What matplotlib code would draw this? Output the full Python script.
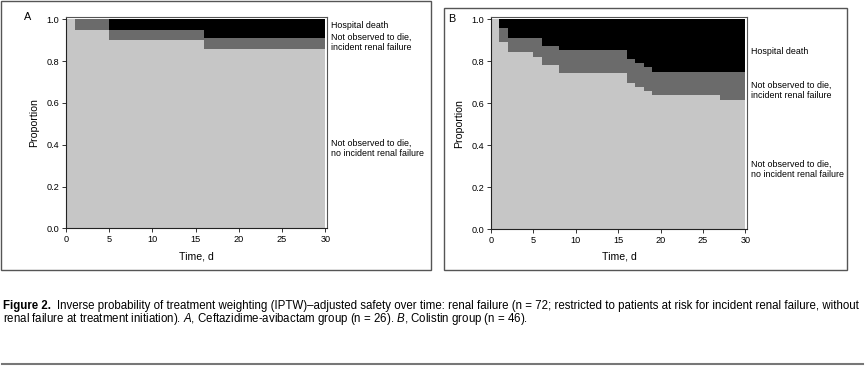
import matplotlib.pyplot as plt
from matplotlib.patches import Rectangle
from matplotlib.lines import Line2D

# step curves: upper edge of "alive, no renal failure" and of "not observed to die"
TIME_A = [0, 1, 5, 16, 30]
ALIVE_NO_RF_A = [1.0, 0.95, 0.90, 0.86, 0.86]
NOT_DEAD_A = [1.0, 1.0, 0.95, 0.91, 0.91]

TIME_B = [0, 1, 2, 5, 6, 8, 16, 17, 18, 19, 27, 30]
ALIVE_NO_RF_B = [1.0, 0.89, 0.845, 0.821, 0.783, 0.745, 0.698, 0.679, 0.66, 0.641, 0.617, 0.617]
NOT_DEAD_B = [1.0, 0.957, 0.913, 0.913, 0.875, 0.856, 0.809, 0.79, 0.771, 0.749, 0.749, 0.749]

X_TICKS = [0, 5, 10, 15, 20, 25, 30]
Y_TICKS = [0.0, 0.2, 0.4, 0.6, 0.8, 1.0]

LABELS = [
    "Hospital death",
    "Not observed to die,\nincident renal failure",
    "Not observed to die,\nno incident renal failure",
]
LABEL_Y_A = [0.969, 0.889, 0.384]
LABEL_Y_B = [0.849, 0.663, 0.284]

CAPTION_HEAD = "Figure 2."
CAPTION_1 = ("Inverse probability of treatment weighting (IPTW)\u2013adjusted safety over time: "
             "renal failure (n = 72; restricted to patients at risk for incident renal failure, without")
CAPTION_2 = ("renal failure at treatment initiation). $\\it{A}$, Ceftazidime-avibactam group (n = 26). "
             "$\\it{B}$, Colistin group (n = 46).")

LIGHT = "#c6c6c6"
MID = "#6b6b6b"
DARK = "#000000"

plt.rcParams["font.family"] = ["Liberation Sans", "DejaVu Sans"]
plt.rcParams["mathtext.fontset"] = "custom"
plt.rcParams["mathtext.it"] = "Liberation Sans:italic"

W, H = 865, 369
fig = plt.figure(figsize=(W / 100, H / 100), dpi=100)


def px_axes(x0, x1, y0, y1):
    # pixel box (top-left origin) -> figure axes
    return fig.add_axes([x0 / W, 1 - y1 / H, (x1 - x0) / W, (y1 - y0) / H])


def draw_panel(ax, t, alive, notdead, label_y):
    ax.fill_between(t, 0, alive, step="post", color=LIGHT, lw=0)
    ax.fill_between(t, alive, notdead, step="post", color=MID, lw=0)
    ax.fill_between(t, notdead, 1.0, step="post", color=DARK, lw=0)
    ax.set_xlim(0, 30.2)
    ax.set_ylim(0, 1.01)
    ax.set_xticks(X_TICKS)
    ax.set_yticks(Y_TICKS)
    ax.set_yticklabels([f"{v:.1f}" for v in Y_TICKS])
    ax.tick_params(labelsize=6.6, length=3, width=0.7, pad=2, color="#333333")
    for s in ax.spines.values():
        s.set_linewidth(0.8)
        s.set_color("#555555")
    ax.spines["left"].set_color("#222222")
    ax.spines["bottom"].set_color("#222222")
    ax.set_xlabel("Time, d", fontsize=7.6, labelpad=5)
    ax.set_ylabel("Proportion", fontsize=7.6, labelpad=5)
    for txt, y in zip(LABELS, label_y):
        ax.text(1.015, y, txt, transform=ax.get_yaxis_transform(),
                fontsize=6.4, va="center", ha="left", linespacing=1.15)


ax_a = px_axes(66, 327, 17.3, 228.3)
draw_panel(ax_a, TIME_A, ALIVE_NO_RF_A, NOT_DEAD_A, LABEL_Y_A)
ax_b = px_axes(491, 747, 17.3, 229)
draw_panel(ax_b, TIME_B, ALIVE_NO_RF_B, NOT_DEAD_B, LABEL_Y_B)

# panel frames
for x0, y0, x1, y1 in [(1, 1, 431, 270), (444, 8, 847, 270)]:
    fig.patches.append(Rectangle((x0 / W, 1 - y1 / H), (x1 - x0) / W, (y1 - y0) / H,
                                 transform=fig.transFigure, fill=False,
                                 ec="#555555", lw=1.0))

fig.text(28 / W, 1 - 17.5 / H, "A", fontsize=7.8, ha="center", va="center")
fig.text(452 / W, 1 - 19 / H, "B", fontsize=7.8, ha="center", va="center")

# caption: pick a font size so the first line spans the page width like the original
renderer = fig.canvas.get_renderer()
GAP = 6


def line1_width(size):
    a = fig.text(0, 0, CAPTION_HEAD, fontsize=size, fontweight="bold")
    b = fig.text(0, 0, CAPTION_1, fontsize=size)
    wa = a.get_window_extent(renderer).width
    wb = b.get_window_extent(renderer).width
    a.remove()
    b.remove()
    return wa, wb


cap_size = 7.0
for _ in range(4):
    wa, wb = line1_width(cap_size)
    cap_size *= (861 - 3 - GAP) / (wa + wb)
wa, wb = line1_width(cap_size)

fig.text(3 / W, 1 - 305.7 / H, CAPTION_HEAD, fontsize=cap_size, fontweight="bold",
         va="center", ha="left")
fig.text((3 + wa + GAP) / W, 1 - 305.7 / H, CAPTION_1, fontsize=cap_size,
         va="center", ha="left")
fig.text(3 / W, 1 - 319 / H, CAPTION_2, fontsize=cap_size, va="center", ha="left")

fig.lines.append(Line2D([2 / W, 863 / W], [1 - 364 / H, 1 - 364 / H],
                        transform=fig.transFigure, color="#777777", lw=1.5))

fig.savefig("out.png", dpi=100)
